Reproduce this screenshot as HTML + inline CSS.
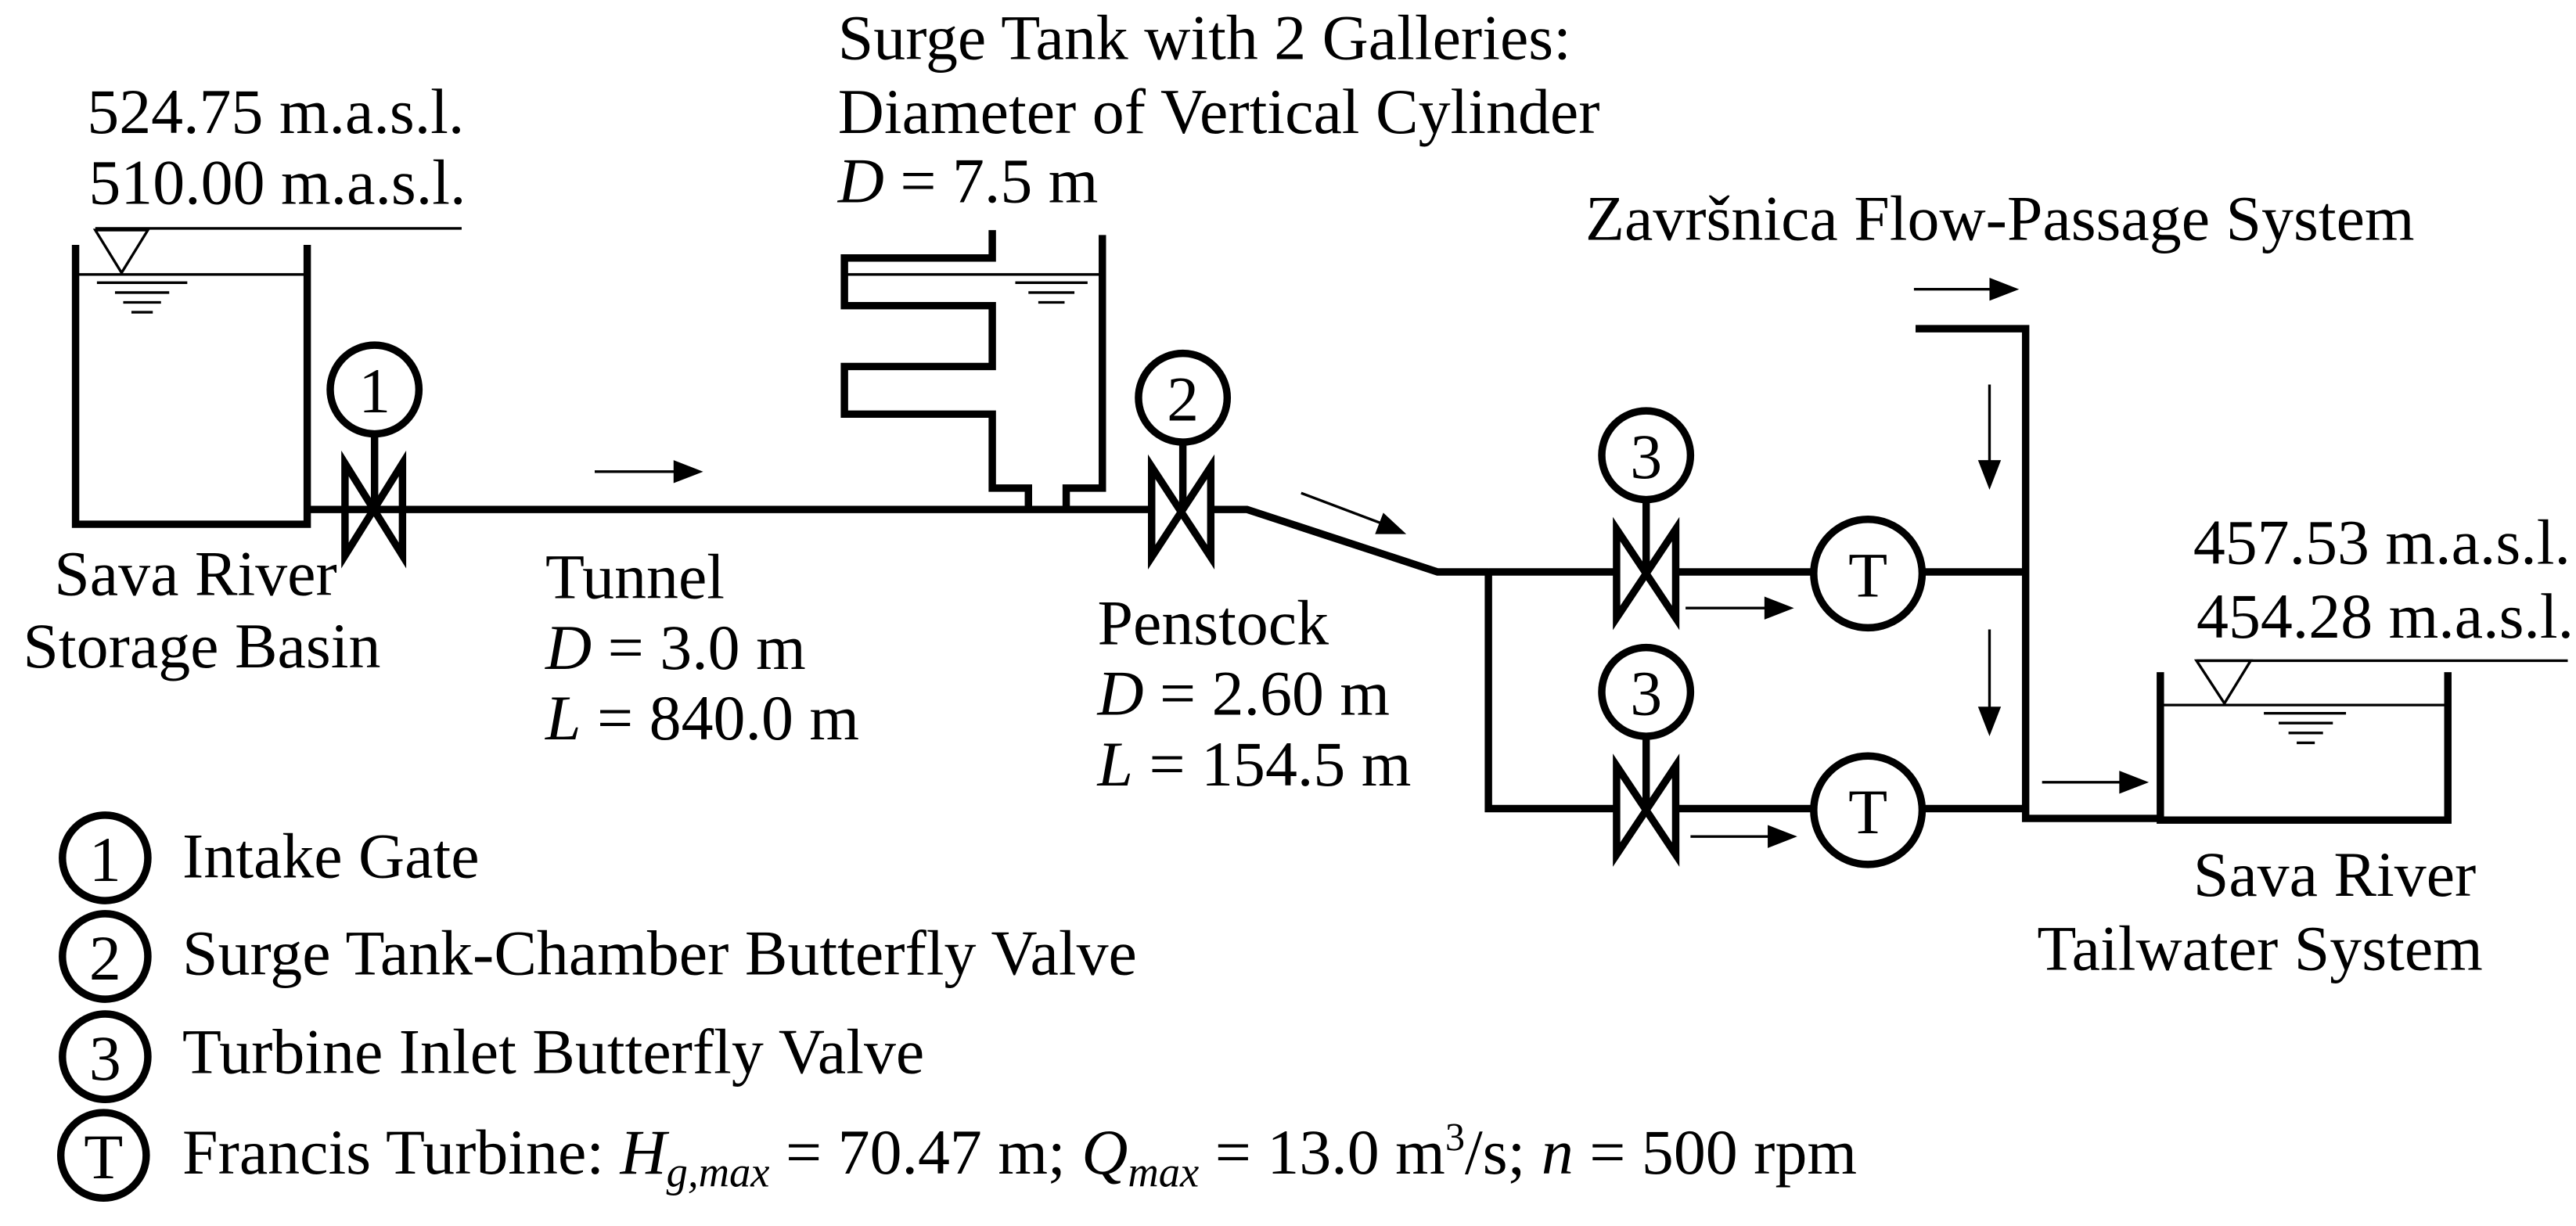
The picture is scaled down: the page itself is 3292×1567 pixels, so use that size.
<!DOCTYPE html>
<html><head><meta charset="utf-8"><style>
html,body{margin:0;padding:0;background:#fff;}
svg{display:block;}
svg text{font-family:"Liberation Serif","Times New Roman",Times,serif;font-size:39px;fill:#000;}
</style></head><body>
<svg width="3292" height="1567" viewBox="0 0 1568 746" preserveAspectRatio="none" xmlns="http://www.w3.org/2000/svg">
<g fill="none" stroke="#000" stroke-width="4.5" stroke-linejoin="miter">
<polyline points="46,149 46,319 187,319 187,149"/>
<line x1="187" y1="310" x2="701" y2="310"/>
<polyline points="604,140 604,157 514,157 514,186 604,186 604,223 514,223 514,252 604,252 604,297 626,297 626,310"/>
<polyline points="649,310 649,297 671,297 671,143"/>
<polyline points="737,310 759,310 875,348 906,348"/>
<line x1="906" y1="348" x2="984" y2="348"/>
<line x1="1020" y1="348" x2="1104" y2="348"/>
<line x1="1170" y1="348" x2="1233" y2="348"/>
<polyline points="906,346 906,492 984,492"/>
<line x1="1020" y1="492" x2="1104" y2="492"/>
<line x1="1170" y1="492" x2="1233" y2="492"/>
<polyline points="1166,200 1233,200 1233,498 1315,498"/>
<polyline points="1315,409 1315,499 1490,499 1490,409"/>
<polygon points="210,282 210,338 245,282 245,338"/>
<polygon points="701,284 701,339 737,284 737,339"/>
<polygon points="984,322 984,376 1020,322 1020,376"/>
<polygon points="984,466 984,520 1020,466 1020,520"/>
<line x1="228" y1="265" x2="228" y2="310"/>
<line x1="720" y1="270" x2="720" y2="310"/>
<line x1="1002" y1="304" x2="1002" y2="348"/>
<line x1="1002" y1="448" x2="1002" y2="492"/>
<circle cx="228" cy="237" r="27" fill="#fff"/>
<circle cx="720" cy="242" r="27" fill="#fff"/>
<circle cx="1002" cy="277" r="27" fill="#fff"/>
<circle cx="1002" cy="421" r="27" fill="#fff"/>
<circle cx="1137" cy="349" r="33" fill="#fff"/>
<circle cx="1137" cy="493" r="33" fill="#fff"/>
<circle cx="64" cy="522" r="26"/>
<circle cx="64" cy="582" r="26"/>
<circle cx="64" cy="643" r="26"/>
<circle cx="63" cy="703" r="26"/>
</g>
<g fill="none" stroke="#000" stroke-width="1.6">
<line x1="58" y1="139" x2="281" y2="139"/>
<polygon points="58,140 90,140 74,166"/>
<line x1="46" y1="167" x2="187" y2="167"/>
<line x1="59" y1="172" x2="114" y2="172"/>
<line x1="70" y1="178" x2="103" y2="178"/>
<line x1="75" y1="184" x2="98" y2="184"/>
<line x1="80" y1="190" x2="93" y2="190"/>
<line x1="514" y1="167" x2="671" y2="167"/>
<line x1="618" y1="172" x2="662" y2="172"/>
<line x1="626" y1="178" x2="654" y2="178"/>
<line x1="632" y1="184" x2="648" y2="184"/>
<line x1="1337" y1="402" x2="1563" y2="402"/>
<polygon points="1337,402 1370,402 1354,428"/>
<line x1="1315" y1="429" x2="1490" y2="429"/>
<line x1="1378" y1="434" x2="1428" y2="434"/>
<line x1="1387" y1="440" x2="1420" y2="440"/>
<line x1="1393" y1="446" x2="1414" y2="446"/>
<line x1="1398" y1="452" x2="1409" y2="452"/>
<line x1="362" y1="287" x2="415" y2="287"/>
<line x1="792" y1="300" x2="845" y2="320"/>
<line x1="1165" y1="176" x2="1216" y2="176"/>
<line x1="1211" y1="234" x2="1211" y2="285"/>
<line x1="1211" y1="383" x2="1211" y2="435"/>
<line x1="1026" y1="370" x2="1080" y2="370"/>
<line x1="1029" y1="509" x2="1082" y2="509"/>
<line x1="1243" y1="476" x2="1295" y2="476"/>
</g>
<g fill="#000" stroke="none">
<polygon points="428,287 410,280 410,294"/>
<polygon points="856,325 837,325 842,312"/>
<polygon points="1229,176 1211,169 1211,183"/>
<polygon points="1211,298 1204,280 1218,280"/>
<polygon points="1211,448 1204,430 1218,430"/>
<polygon points="1092,370 1074,363 1074,377"/>
<polygon points="1094,509 1076,502 1076,516"/>
<polygon points="1308,476 1290,469 1290,483"/>
</g>
<g font-family="Liberation Serif, Times New Roman, serif">
<text x="53" y="81">524.75 m.a.s.l.</text>
<text x="54" y="124">510.00 m.a.s.l.</text>
<text x="510" y="36">Surge Tank with 2 Galleries:</text>
<text x="510" y="81">Diameter of Vertical Cylinder</text>
<text x="510" y="123"><tspan font-style="italic">D</tspan> = 7.5 m</text>
<text x="965" y="146">Završnica  Flow-Passage System</text>
<text x="33" y="362">Sava River</text>
<text x="14" y="406">Storage Basin</text>
<text x="332" y="364">Tunnel</text>
<text x="332" y="407"><tspan font-style="italic">D</tspan> = 3.0 m</text>
<text x="332" y="450"><tspan font-style="italic">L</tspan> = 840.0 m</text>
<text x="668" y="392">Penstock</text>
<text x="668" y="435"><tspan font-style="italic">D</tspan> = 2.60 m</text>
<text x="668" y="478"><tspan font-style="italic">L</tspan> = 154.5 m</text>
<text x="1335" y="343">457.53 m.a.s.l.</text>
<text x="1337" y="388">454.28 m.a.s.l.</text>
<text x="1335" y="545">Sava River</text>
<text x="1240" y="590">Tailwater System</text>
<text x="228" y="251" text-anchor="middle">1</text>
<text x="720" y="256" text-anchor="middle">2</text>
<text x="1002" y="291" text-anchor="middle">3</text>
<text x="1002" y="435" text-anchor="middle">3</text>
<text x="1137" y="363" text-anchor="middle">T</text>
<text x="1137" y="507" text-anchor="middle">T</text>
<text x="64" y="536" text-anchor="middle">1</text>
<text x="64" y="596" text-anchor="middle">2</text>
<text x="64" y="657" text-anchor="middle">3</text>
<text x="63" y="717" text-anchor="middle">T</text>
<text x="111" y="534">Intake Gate</text>
<text x="111" y="593">Surge Tank-Chamber Butterfly Valve</text>
<text x="111" y="653">Turbine Inlet Butterfly Valve</text>
<text x="111" y="714">Francis Turbine: <tspan font-style="italic">H</tspan><tspan font-style="italic" font-size="26" dy="8">g,max</tspan><tspan dy="-8"> = 70.47 m; </tspan><tspan font-style="italic">Q</tspan><tspan font-style="italic" font-size="26" dy="8">max</tspan><tspan dy="-8"> = 13.0 m</tspan><tspan font-size="24" dy="-14">3</tspan><tspan dy="14">/s; </tspan><tspan font-style="italic">n</tspan> = 500 rpm</text>
</g>
</svg>
</body></html>
